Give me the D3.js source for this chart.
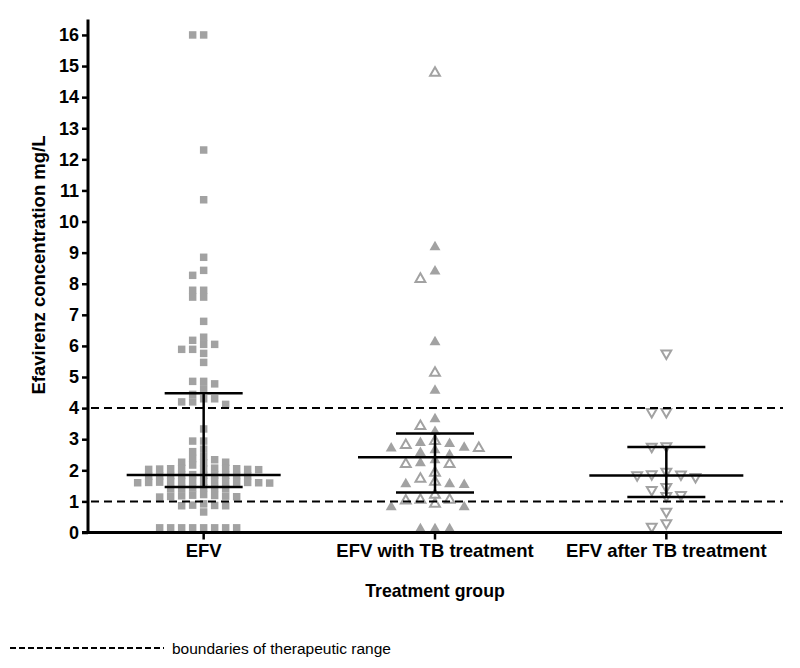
<!DOCTYPE html>
<html>
<head>
<meta charset="utf-8">
<script src="https://cdn.jsdelivr.net/npm/d3@7"></script>
<style>
  body { margin: 0; background: #fff; }
  text { font-family: "Liberation Sans", Arial, sans-serif; }
</style>
</head>
<body>
<svg id="chart" width="800" height="668"></svg>
<script>
// groups on the x axis
const groups = ['EFV', 'EFV with TB treatment', 'EFV after TB treatment'];

// concentrations (mg/L)
const efv = [16, 16, 12.3, 10.7, 8.85, 8.43, 8.27, 7.79, 7.79, 7.57, 7.57, 6.79, 6.28, 6.18,
  6.05, 6.05, 5.89, 5.89, 5.76, 5.47,
  4.86, 4.86, 4.78, 4.62, 4.44, 4.30, 4.30, 4.20, 4.20, 4.12,
  3.33, 2.94, 2.94, 2.68, 2.60, 2.44, 2.38, 2.34, 2.26, 2.26, 2.24, 2.17,
  2.07, 2.06, 2.06, 2.05, 2.05, 2.04, 2.04, 2.03, 2.03, 2.02,
  1.86, 1.85, 1.85, 1.84, 1.84, 1.83, 1.83, 1.82, 1.82, 1.81,
  1.65, 1.65, 1.64, 1.64, 1.63, 1.63, 1.62, 1.62, 1.61, 1.61, 1.60, 1.60, 1.59,
  1.44, 1.43, 1.42, 1.42, 1.41, 1.40,
  1.22, 1.20, 1.19, 1.18, 1.17, 1.16, 1.15, 1.14,
  0.92, 0.88, 0.87, 0.86, 0.86, 0.66,
  0.15, 0.15, 0.15, 0.15, 0.15, 0.15, 0.15, 0.15];
const tbFilled = [9.18, 8.4, 6.12, 4.56, 3.65, 3.24, 2.88, 2.85, 2.73, 2.71, 2.65, 2.56,
  2.49, 2.33, 2.23, 1.56, 1.53, 1.56, 0.82, 0.82, 0.11, 0.11, 0.11];
const tbOpen = [14.78, 8.15, 5.13, 3.42, 2.94, 2.81, 2.71, 2.20, 2.20, 1.92, 1.72, 1.63,
  1.21, 1.05, 1.05, 1.02, 0.92];
const afterTb = [5.76, 3.88, 3.88, 2.78, 2.76, 1.96, 1.88, 1.87, 1.85, 1.79, 1.47, 1.37,
  1.21, 1.18, 0.67, 0.30, 0.19];

// median and interquartile range as drawn
const medians = [1.85, 2.42, 1.83];
const q1s = [1.46, 1.29, 1.14];
const q3s = [4.48, 3.18, 2.75];

const yTicks = d3.range(0, 17);
const limits = [1, 4];   // therapeutic range

const GREY = '#a2a2a2';
const svg = d3.select('#chart');

const x = d3.scaleBand().domain(groups).range([88, 782]);
const y = d3.scaleLinear().domain([0, 16.5]).range([532.5, 19.4]);
const cx = g => x(g) + x.bandwidth() / 2;

// simple column scatter: slots 0, -1, 1, -2, 2 ... until no overlap
function swarm(pts, step, minDy) {
  const placed = [];
  pts.sort((a, b) => b.v - a.v).forEach(p => {
    p.py = y(p.v);
    for (let k = 0; ; k++) {
      const slot = k === 0 ? 0 : (k % 2 ? -Math.ceil(k / 2) : k / 2);
      if (!placed.some(q => q.slot === slot && Math.abs(q.py - p.py) < minDy)) {
        p.slot = slot; p.px = cx(p.g) + slot * step; placed.push(p); break;
      }
    }
  });
  return pts;
}

const ptsEfv = swarm(efv.map(v => ({ v, g: groups[0], kind: 'sq' })), 11, 6);
const ptsTb = swarm(tbFilled.map(v => ({ v, g: groups[1], kind: 'tf' }))
  .concat(tbOpen.map(v => ({ v, g: groups[1], kind: 'to' }))), 14.6, 9);
const ptsAfter = swarm(afterTb.map(v => ({ v, g: groups[2], kind: 'ti' })), 14.6, 9);

const sq = d3.symbol(d3.symbolSquare, 56)();
const tri = d3.symbol(d3.symbolTriangle, 52)();
const triOpen = d3.symbol(d3.symbolTriangle, 42)();

const marks = svg.append('g');
marks.selectAll('path.pt')
  .data(ptsEfv.concat(ptsTb, ptsAfter))
  .join('path')
  .attr('class', 'pt')
  .attr('transform', d => `translate(${d.px},${d.py})` + (d.kind === 'ti' ? ' rotate(180)' : ''))
  .attr('d', d => d.kind === 'sq' ? sq : d.kind === 'tf' ? tri : triOpen)
  .attr('fill', d => (d.kind === 'sq' || d.kind === 'tf') ? GREY : 'none')
  .attr('stroke', d => (d.kind === 'to' || d.kind === 'ti') ? GREY : 'none')
  .attr('stroke-width', 2);

// therapeutic range boundaries
svg.append('g').selectAll('line')
  .data(limits)
  .join('line')
  .attr('x1', 91).attr('x2', 783)
  .attr('y1', d => y(d)).attr('y2', d => y(d))
  .attr('stroke', '#000').attr('stroke-width', 2)
  .attr('stroke-dasharray', '8,5');

// median + IQR
const stats = svg.append('g').attr('stroke', '#000').attr('stroke-width', 2.5);
groups.forEach((g, i) => {
  const c = cx(g);
  stats.append('line').attr('x1', c - 77).attr('x2', c + 77)
    .attr('y1', y(medians[i])).attr('y2', y(medians[i]));
  [q1s[i], q3s[i]].forEach(q => stats.append('line')
    .attr('x1', c - 39).attr('x2', c + 39).attr('y1', y(q)).attr('y2', y(q)));
  stats.append('line').attr('x1', c).attr('x2', c)
    .attr('y1', y(q1s[i])).attr('y2', y(q3s[i]));
});

// axes
const yAxis = svg.append('g')
  .attr('transform', 'translate(88,0)')
  .call(d3.axisLeft(y).tickValues(yTicks).tickSize(6).tickPadding(3));
const xAxis = svg.append('g')
  .attr('transform', `translate(0,${y(0)})`)
  .call(d3.axisBottom(x).tickSize(7).tickPadding(4));
[yAxis, xAxis].forEach(a => {
  a.select('.domain').attr('stroke', '#000').attr('stroke-width', 3);
  a.selectAll('.tick line').attr('stroke', '#000').attr('stroke-width', 2.5);
  a.selectAll('.tick text').attr('fill', '#000')
    .style('font-size', '18px').style('font-weight', 'bold');
});
yAxis.select('.domain').attr('d', `M-6,${y(0)}H0V${y(16.5)}`);
xAxis.select('.domain').attr('d', `M88,0H782`);
xAxis.selectAll('.tick text').style('font-size', '18.5px');

// titles
svg.append('text')
  .attr('transform', 'translate(45,265) rotate(-90)')
  .attr('text-anchor', 'middle')
  .style('font-size', '18.5px').style('font-weight', 'bold')
  .text('Efavirenz concentration mg/L');
svg.append('text')
  .attr('x', 435).attr('y', 597)
  .attr('text-anchor', 'middle')
  .style('font-size', '17.7px').style('font-weight', 'bold')
  .text('Treatment group');

// legend
svg.append('line')
  .attr('x1', 10).attr('x2', 164).attr('y1', 648).attr('y2', 648)
  .attr('stroke', '#000').attr('stroke-width', 2)
  .attr('stroke-dasharray', '6,3');
svg.append('text')
  .attr('x', 172).attr('y', 654)
  .style('font-size', '15.5px')
  .text('boundaries of therapeutic range');
</script>
</body>
</html>
